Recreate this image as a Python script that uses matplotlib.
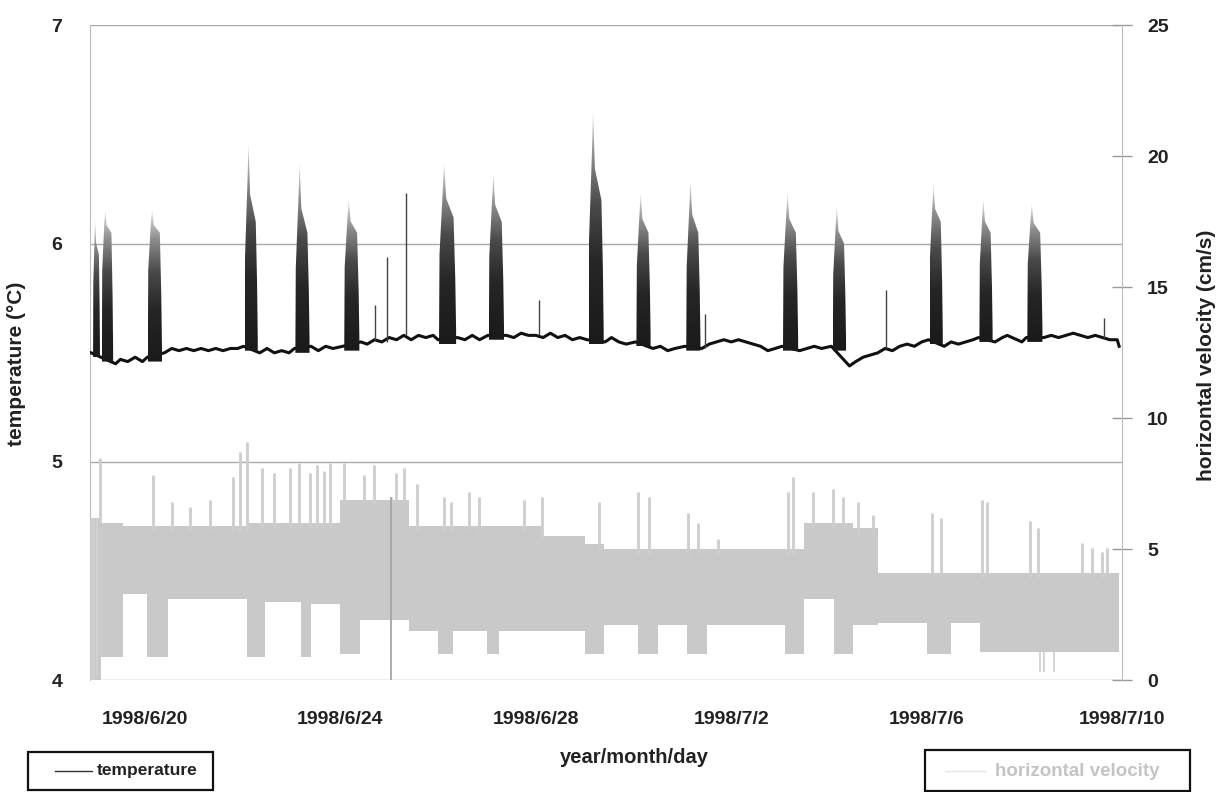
import matplotlib
matplotlib.use("Agg")
import matplotlib.pyplot as plt
import numpy as np
from matplotlib.patches import Polygon, Rectangle
from matplotlib.lines import Line2D
from matplotlib.colors import LinearSegmentedColormap

plt.rcParams['font.family'] = ['Liberation Sans', 'DejaVu Sans']

# ---------------- data (days since 1998/6/19 00:00) ----------------
xtick_days = [1, 5, 9, 13, 17, 21]
xtick_labels = ["1998/6/20", "1998/6/24", "1998/6/28", "1998/7/2", "1998/7/6", "1998/7/10"]

# temperature baseline (deg C)
base_t = [-0.10, 0.40, 0.50, 0.65, 0.80, 0.95, 1.05,
          1.40, 1.55, 1.70, 1.85, 2.00, 2.15, 2.30, 2.45, 2.60, 2.75, 2.90, 3.02,
          3.35, 3.50, 3.65, 3.80, 3.95, 4.06,
          4.40, 4.55, 4.70, 4.85, 5.05,
          5.42, 5.55, 5.70, 5.85, 6.00, 6.15, 6.30, 6.45, 6.60, 6.75, 6.90, 7.00,
          7.40, 7.55, 7.70, 7.85, 8.02,
          8.40, 8.55, 8.70, 8.85, 9.00, 9.15, 9.30, 9.45, 9.60, 9.75, 9.90, 10.05,
          10.42, 10.55, 10.70, 10.85, 11.04,
          11.40, 11.55, 11.70, 11.85, 12.05,
          12.40, 12.55, 12.70, 12.85, 13.00, 13.15, 13.30, 13.45, 13.60, 13.75, 13.90, 14.04,
          14.40, 14.55, 14.70, 14.85, 15.05,
          15.42, 15.55, 15.70, 15.85, 16.00, 16.15, 16.30, 16.45, 16.60, 16.75, 16.90, 17.04,
          17.36, 17.50, 17.65, 17.80, 17.95, 18.06,
          18.40, 18.55, 18.65, 18.75, 18.85, 18.95, 19.04,
          19.40, 19.55, 19.70, 19.85, 20.00, 20.15, 20.30, 20.45, 20.60, 20.75, 20.90, 20.94]
base_T = [5.50, 5.45, 5.47, 5.46, 5.48, 5.46, 5.48,
          5.50, 5.52, 5.51, 5.52, 5.51, 5.52, 5.51, 5.52, 5.51, 5.52, 5.52, 5.53,
          5.50, 5.52, 5.50, 5.51, 5.50, 5.52,
          5.53, 5.51, 5.53, 5.52, 5.53,
          5.55, 5.54, 5.56, 5.55, 5.57, 5.56, 5.58, 5.56, 5.58, 5.57, 5.58, 5.56,
          5.57, 5.56, 5.58, 5.56, 5.58,
          5.58, 5.57, 5.59, 5.58, 5.58, 5.57, 5.59, 5.57, 5.58, 5.56, 5.57, 5.56,
          5.55, 5.57, 5.55, 5.54, 5.55,
          5.52, 5.53, 5.51, 5.52, 5.53,
          5.52, 5.54, 5.55, 5.56, 5.55, 5.56, 5.55, 5.54, 5.53, 5.51, 5.52, 5.53,
          5.51, 5.52, 5.53, 5.52, 5.53,
          5.44, 5.46, 5.48, 5.49, 5.50, 5.52, 5.51, 5.53, 5.54, 5.53, 5.55, 5.56,
          5.53, 5.55, 5.54, 5.55, 5.56, 5.57,
          5.55, 5.57, 5.58, 5.57, 5.56, 5.55, 5.57,
          5.57, 5.58, 5.57, 5.58, 5.59, 5.58, 5.57, 5.58, 5.57, 5.56, 5.56, 5.53]

# warm pulses (dense oscillation bursts)
pulse_start = [-0.06, 0.12, 1.06, 3.04, 4.08, 5.08, 7.02, 8.04, 10.08, 11.06, 12.08, 14.06, 15.08, 17.06, 18.08, 19.06]
pulse_end   = [0.08, 0.35, 1.35, 3.31, 4.37, 5.39, 7.37, 8.35, 10.39, 11.35, 12.37, 14.37, 15.35, 17.33, 18.35, 19.37]
pulse_peak  = [6.11, 6.15, 6.15, 6.46, 6.37, 6.20, 6.37, 6.32, 6.61, 6.23, 6.29, 6.23, 6.17, 6.27, 6.20, 6.18]
pulse_core  = [5.95, 6.05, 6.05, 6.10, 6.05, 6.05, 6.12, 6.10, 6.20, 6.05, 6.05, 6.05, 6.00, 6.10, 6.05, 6.05]
pulse_base  = [5.50, 5.48, 5.48, 5.53, 5.52, 5.53, 5.56, 5.58, 5.56, 5.55, 5.53, 5.53, 5.53, 5.56, 5.57, 5.57]

# isolated thin temperature spikes
tspike_t   = [5.71, 5.96, 6.35, 9.06, 12.47, 16.16, 20.63]
tspike_top = [5.72, 5.94, 6.23, 5.74, 5.68, 5.79, 5.66]

# horizontal velocity band (cm/s), step segments
vel_t  = [-0.12, 0.10, 0.55, 1.05, 1.47, 3.10, 3.45, 4.20, 4.40, 5.00, 5.40, 6.40, 7.00, 7.30,
          8.00, 8.25, 9.10, 10.00, 10.40, 11.10, 11.50, 12.10, 12.50, 14.10, 14.50, 15.10,
          15.50, 16.00, 17.00, 17.50, 18.10, 20.94]
vel_lo = [0.0, 0.9, 3.3, 0.9, 3.1, 0.9, 3.0, 0.9, 2.9, 1.0, 2.3, 1.9, 1.0, 1.9,
          1.0, 1.9, 1.9, 1.0, 2.1, 1.0, 2.1, 1.0, 2.1, 1.0, 3.1, 1.0,
          2.1, 2.2, 1.0, 2.2, 1.1, 1.1]
vel_hi = [6.2, 6.0, 5.9, 5.9, 5.9, 6.0, 6.0, 6.0, 6.0, 6.9, 6.9, 5.9, 5.9, 5.9,
          5.9, 5.9, 5.5, 5.2, 5.0, 5.0, 5.0, 5.0, 5.0, 5.0, 6.0, 6.0,
          5.8, 4.1, 4.1, 4.1, 4.1, 4.1]

# velocity spikes above band
vspike_t = [0.08, 1.16, 1.55, 1.92, 2.33, 2.80, 2.94, 3.08, 3.39, 3.65, 3.96, 4.16, 4.37, 4.53,
            4.67, 4.78, 5.08, 5.49, 5.69, 6.04, 6.14, 6.31, 6.57, 7.12, 7.27, 7.63, 7.84, 8.76,
            9.12, 10.29, 11.10, 11.31, 12.12, 12.33, 12.73, 14.16, 14.27, 14.67, 15.08, 15.29,
            15.59, 15.90, 17.12, 17.29, 18.14, 18.24, 19.12, 19.27, 20.18, 20.39, 20.59, 20.69]
vspike_top = [8.5, 7.85, 6.8, 6.6, 6.9, 7.75, 8.7, 9.1, 8.1, 7.9, 8.1, 8.3, 7.9, 8.2,
              8.0, 8.3, 8.3, 7.85, 8.2, 7.0, 7.9, 8.1, 7.5, 7.0, 6.8, 7.2, 7.0, 6.9,
              7.0, 6.8, 7.2, 7.0, 6.4, 6.0, 5.4, 7.2, 7.75, 7.2, 7.3, 7.0,
              6.8, 6.3, 6.4, 6.2, 6.9, 6.8, 6.1, 5.8, 5.25, 5.05, 4.9, 5.05]

# velocity drops below band
vdrop_t = [-0.06, 0.02, 6.04, 19.31, 19.41, 19.61]
vdrop_bottom = [0.0, 0.2, 0.0, 0.3, 0.3, 0.3]
vdrop_top = [6.2, 6.2, 7.0, 1.1, 1.1, 1.1]

# ---------------- figure ----------------
fig = plt.figure(figsize=(12.17, 7.92), dpi=100)
ax = fig.add_axes([0.074, 0.141, 0.848, 0.827])
ax2 = ax.twinx()

XMIN, XMAX = -0.122, 20.94

grid_c = '#aaaaaa'
for yv in [4, 5, 6, 7]:
    ax.axhline(yv, color=grid_c, lw=1.0, zorder=0)

# velocity band
vel_c = '#c9c9c9'
ax2.fill_between(vel_t, vel_lo, vel_hi, step='post', color=vel_c, lw=0, zorder=1)
for t, top in zip(vspike_t, vspike_top):
    hi_here = vel_hi[np.searchsorted(vel_t, t, side='right') - 1]
    ax2.vlines(t, hi_here - 0.2, top, color='#cdcdcd', lw=2.0, zorder=1)
for t, bot, top in zip(vdrop_t, vdrop_bottom, vdrop_top):
    c = '#a6a6a6' if 1 < t < 10 else '#d2d2d2'
    ax2.vlines(t, bot, top, color=c, lw=1.3, zorder=1)

# temperature baseline
ax.plot(base_t, base_T, color='#111111', lw=2.2, zorder=3, solid_joinstyle='round')

# pulses with vertical fade
cmap = LinearSegmentedColormap.from_list('fade', [(0, '#1a1a1a'), (0.35, '#262626'),
                                                   (0.6, '#4a4a4a'), (0.82, '#8f8f8f'),
                                                   (1.0, '#e2e2e2')])
grad = np.linspace(0, 1, 200).reshape(-1, 1)
for s, e, pk, co, b in zip(pulse_start, pulse_end, pulse_peak, pulse_core, pulse_base):
    w = e - s
    verts = [(s, b - 0.02), (s + 0.03 * w, b + 0.7 * (co - b)), (s + 0.22 * w, co + 0.5 * (pk - co)),
             (s + 0.30 * w, pk), (s + 0.42 * w, co + 0.35 * (pk - co)),
             (e - 0.15 * w, co), (e - 0.05 * w, b + 0.5 * (co - b)), (e, b + 0.04), (e, b - 0.02)]
    poly = Polygon(verts, closed=True, transform=ax.transData, facecolor='none', edgecolor='none')
    im = ax.imshow(grad, extent=[s, e, b - 0.02, pk], origin='lower', aspect='auto',
                   cmap=cmap, vmin=0, vmax=1, zorder=4, interpolation='bilinear')
    im.set_clip_path(poly)

for t, top in zip(tspike_t, tspike_top):
    i = np.searchsorted(base_t, t) - 1
    ax.vlines(t, base_T[i], top, color='#444444', lw=1.0, zorder=4)

ax.set_xlim(XMIN, XMAX)
ax.set_ylim(4, 7)
ax2.set_ylim(0, 25)

# axes styling
for a in (ax, ax2):
    for sp in a.spines.values():
        sp.set_visible(False)
ax.spines['left'].set_visible(True)
ax.spines['left'].set_color('#bbbbbb')
ax2.spines['right'].set_visible(True)
ax2.spines['right'].set_color('#bbbbbb')

tick_font = dict(fontsize=14, fontweight='bold', color='#222222')
ax.set_xticks(xtick_days)
ax.set_xticklabels(xtick_labels, **tick_font)
ax.tick_params(axis='x', length=0, pad=22)
ax.set_yticks([4, 5, 6, 7])
ax.set_yticklabels(['4', '5', '6', '7'], **tick_font)
ax.tick_params(axis='y', length=0, pad=20)
ax2.set_yticks([0, 5, 10, 15, 20, 25])
ax2.set_yticklabels(['0', '5', '10', '15', '20', '25'], **tick_font)
ax2.tick_params(axis='y', direction='inout', length=14, width=1, color='#999999', pad=11)

ax.set_ylabel('temperature (°C)', fontsize=15, fontweight='bold', color='#222222')
ax.yaxis.set_label_coords(-0.062, 0.484)
ax2.set_ylabel('horizontal velocity (cm/s)', fontsize=15, fontweight='bold', color='#222222')
ax2.yaxis.set_label_coords(1.073, 0.496)
ax.set_xlabel('year/month/day', fontsize=14.5, fontweight='bold', color='#222222')
ax.xaxis.set_label_coords(0.527, -0.103)

# legends (boxes at bottom)
W, H = 1217.0, 792.0
def fx(px): return px / W
def fy(py): return 1 - py / H

fig.patches.append(Rectangle((fx(28), fy(790)), fx(185), 38 / H, transform=fig.transFigure,
                             facecolor='white', edgecolor='#111111', lw=1.6, zorder=5))
fig.lines.append(Line2D([fx(55), fx(92)], [fy(771), fy(771)], transform=fig.transFigure,
                        color='#333333', lw=1.0, zorder=6))
fig.text(fx(97), fy(771), 'temperature', fontsize=12.5, fontweight='bold', color='#222222',
         va='center', ha='left', zorder=6)

fig.patches.append(Rectangle((fx(925), fy(791)), fx(265), 41 / H, transform=fig.transFigure,
                             facecolor='white', edgecolor='#111111', lw=1.6, zorder=5))
fig.lines.append(Line2D([fx(945), fx(985)], [fy(771), fy(771)], transform=fig.transFigure,
                        color='#e6e6e6', lw=1.0, zorder=6))
fig.text(fx(995), fy(771), 'horizontal velocity', fontsize=13.5, fontweight='bold', color='#c4c4c4',
         va='center', ha='left', zorder=6)

fig.savefig('out.png', dpi=100)
